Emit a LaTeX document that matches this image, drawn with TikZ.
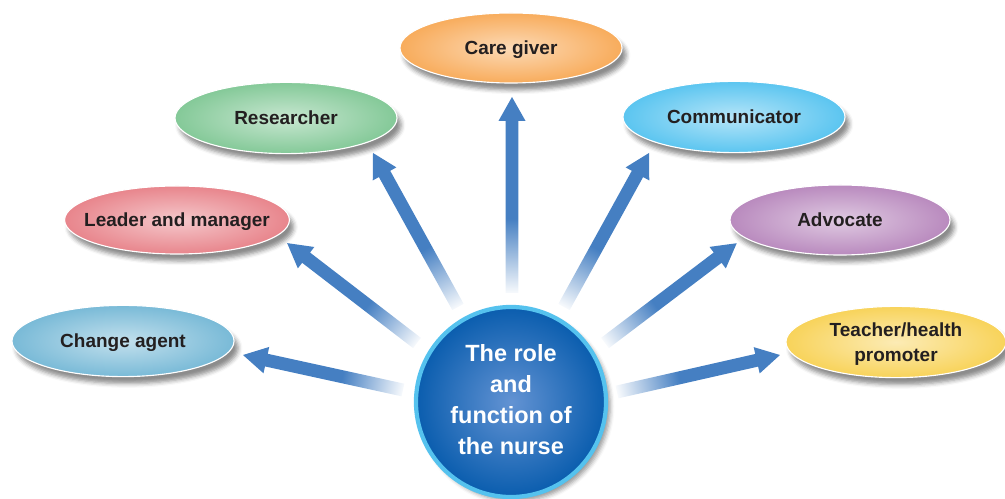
\documentclass[tikz,border=0pt]{standalone}
\usepackage{fontspec}
\setmainfont{Liberation Sans}
\usetikzlibrary{calc, shapes, shadows.blur}

\definecolor{ink}{HTML}{231F20}
\definecolor{rayblue}{HTML}{457FC2}
\definecolor{changeC}{HTML}{79BAD7}
\definecolor{leaderC}{HTML}{E8858C}
\definecolor{researchC}{HTML}{84C998}
\definecolor{careC}{HTML}{F8AC5C}
\definecolor{commC}{HTML}{5BC5F0}
\definecolor{advocateC}{HTML}{B98ABE}
\definecolor{teacherC}{HTML}{F8D35A}
\definecolor{hubC}{HTML}{0A5DAE}
\definecolor{hubIn}{HTML}{6393D3}
\definecolor{hubRim}{HTML}{55C2EE}

% fades from nearly white at the tail to solid blue
\pgfdeclarehorizontalshading{rayfade}{100bp}{color(0bp)=(rayblue!4); color(25bp)=(rayblue!4); color(44bp)=(rayblue); color(100bp)=(rayblue)}

\tikzset{
    role/.style={ellipse, minimum width=5.55cm, minimum height=1.78cm, inner xsep=-1cm, text depth=0pt,
        draw=white, line width=0.8pt, text=ink, align=center,
        font=\bfseries\fontsize{13.5}{18}\selectfont,
        blur shadow={shadow xshift=3pt, shadow yshift=-5pt, shadow blur radius=3pt, shadow opacity=45}},
    hub/.style={circle, minimum size=4.75cm, draw=hubRim, line width=3pt,
        inner color=hubIn, outer color=hubC, text=white, align=center,
        font=\bfseries\fontsize{16.7}{22}\selectfont,
        blur shadow={shadow xshift=3pt, shadow yshift=-3pt, shadow blur radius=3pt, shadow opacity=40}}
}

% thick arrow from #1 to #2
\newcommand\ray[2]{%
    \path let \p1=($(#2)-(#1)$) in
        \pgfextra{\pgfmathparse{atan2(\y1,\x1)}\xdef\rayang{\pgfmathresult}%
                  \pgfmathparse{veclen(\x1,\y1)}\xdef\raylen{\pgfmathresult}};
    \begin{scope}[transform canvas={shift={(#1)}, rotate=\rayang}]
        \shade[shading=rayfade] (0pt,-4.6pt) -- (\raylen pt-17pt,-4.6pt) -- (\raylen pt-17pt,-9.6pt)
            -- (\raylen pt,0pt) -- (\raylen pt-17pt,9.6pt) -- (\raylen pt-17pt,4.6pt) -- (0pt,4.6pt) -- cycle;
    \end{scope}}

\begin{document}
\begin{tikzpicture}[x=0.025cm, y=0.025cm]

        \useasboundingbox (0,0) rectangle (1005,499);

        % The roles
        \node[role, inner color=changeC!45!white, outer color=changeC] (change) at (123,158) {Change agent};
        \node[role, inner color=leaderC!45!white, outer color=leaderC, minimum width=5.62cm, minimum height=1.7cm] (leader) at (177,279) {Leader and manager};
        \node[role, inner color=researchC!45!white, outer color=researchC] (research) at (286,381) {Researcher};
        \node[role, inner color=careC!45!white, outer color=careC, minimum height=1.75cm] (care) at (511,451) {Care giver};
        \node[role, inner color=commC!45!white, outer color=commC] (comm) at (734,382) {Communicator};
        \node[role, inner color=advocateC!45!white, outer color=advocateC, minimum width=5.5cm, minimum height=1.75cm] (advocate) at (840,279) {Advocate};
        \node[role, inner color=teacherC!45!white, outer color=teacherC, minimum width=5.5cm] (teacher) at (896,157) {Teacher/health\\promoter};

        % The nurse in the middle
        \node[hub] (nurse) at (511,97) {\raisebox{3pt}{\begin{tabular}{@{}c@{}}The role\\and\\function of\\the nurse\end{tabular}}};

        % Arrow ends
        \coordinate (careTail) at (512,206);
        \coordinate (careTip) at (512,402);
        \coordinate (researchTail) at (458,192);
        \coordinate (researchTip) at (373,346);
        \coordinate (commTail) at (564,192);
        \coordinate (commTip) at (649,346);
        \coordinate (leaderTail) at (417,156);
        \coordinate (leaderTip) at (287,256);
        \coordinate (advocateTail) at (605,156);
        \coordinate (advocateTip) at (737,256);
        \coordinate (changeTail) at (403,109);
        \coordinate (changeTip) at (243,144);
        \coordinate (teacherTail) at (617,107);
        \coordinate (teacherTip) at (780,144);

        % Arrows
        \ray{careTail}{careTip}
        \ray{researchTail}{researchTip}
        \ray{commTail}{commTip}
        \ray{leaderTail}{leaderTip}
        \ray{advocateTail}{advocateTip}
        \ray{changeTail}{changeTip}
        \ray{teacherTail}{teacherTip}

    \end{tikzpicture}
\end{document}
